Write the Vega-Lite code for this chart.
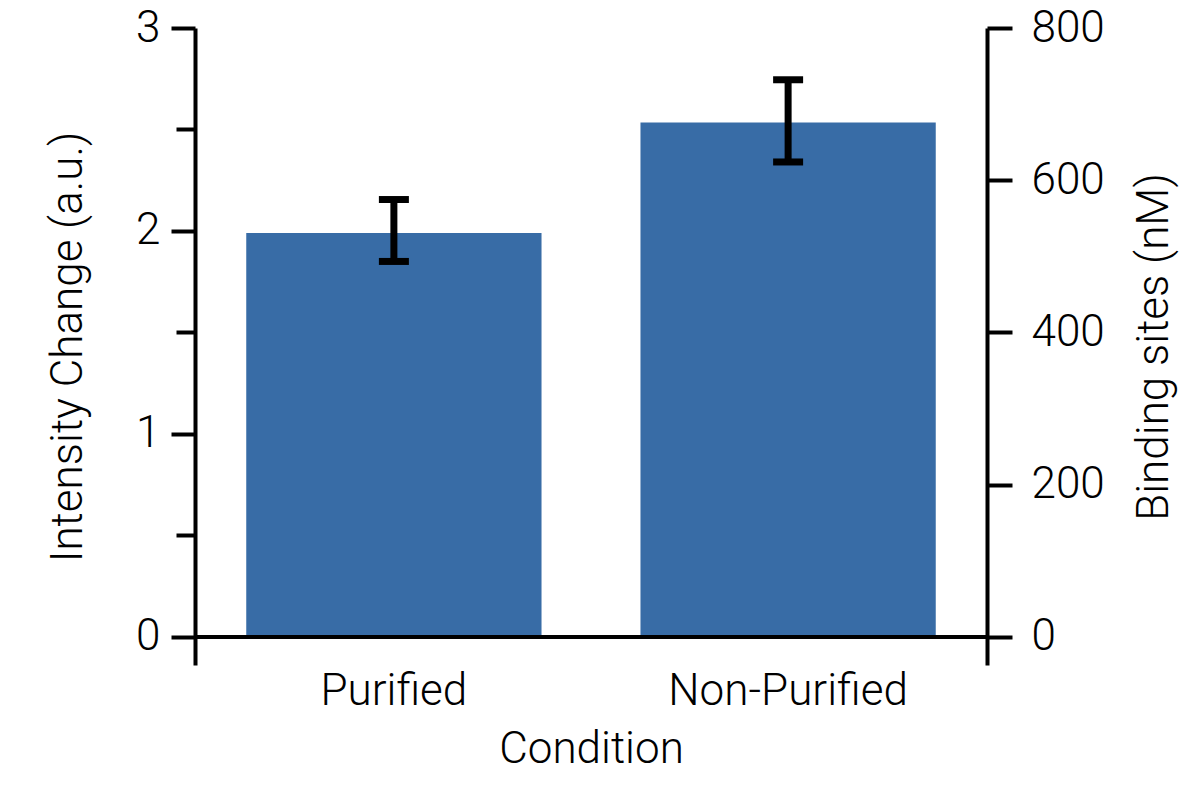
{
  "$schema": "https://vega.github.io/schema/vega-lite/v6.json",
  "autosize": "none",
  "width": 792,
  "height": 637,
  "padding": {"left": 195, "top": 28, "right": 213, "bottom": 128},
  "data": {
    "values": [
      {"condition": "Purified", "value": 1.99, "lo": 1.85, "hi": 2.155},
      {"condition": "Non-Purified", "value": 2.535, "lo": 2.34, "hi": 2.745}
    ]
  },
  "layer": [
    {
      "encoding": {
        "x": {
          "field": "condition",
          "type": "nominal",
          "sort": null,
          "scale": {"paddingInner": 0.251, "paddingOuter": 0.13},
          "axis": {"title": "Condition", "labelAngle": 0, "domain": false, "ticks": false, "labelPadding": 4, "titlePadding": 14, "labelLimit": 0}
        }
      },
      "layer": [
        {
          "mark": {"type": "bar", "color": "#386ca6"},
          "encoding": {
            "y": {
              "field": "value",
              "type": "quantitative",
              "scale": {"domain": [-0.138, 3], "nice": false, "zero": false},
              "axis": {
                "title": "Intensity Change (a.u.)",
                "values": [0, 0.5, 1, 1.5, 2, 2.5, 3],
                "labelExpr": "datum.value % 1 === 0 ? format(datum.value, 'd') : ''",
                "tickSize": {"condition": {"test": "datum.value % 1 !== 0", "value": 19}, "value": 24},
                "labelPadding": 11,
                "titlePadding": 45
              }
            }
          }
        },
        {
          "mark": {"type": "errorbar", "color": "black", "opacity": 1, "thickness": 7, "ticks": {"size": 30, "thickness": 7, "color": "black", "opacity": 1}},
          "encoding": {
            "y": {
              "field": "lo",
              "type": "quantitative",
              "axis": {
                "title": "Intensity Change (a.u.)",
                "values": [0, 0.5, 1, 1.5, 2, 2.5, 3],
                "labelExpr": "datum.value % 1 === 0 ? format(datum.value, 'd') : ''",
                "tickSize": {"condition": {"test": "datum.value % 1 !== 0", "value": 19}, "value": 24},
                "labelPadding": 11,
                "titlePadding": 45
              }
            },
            "y2": {"field": "hi"}
          }
        }
      ]
    },
    {
      "mark": {"type": "rule", "color": "black", "strokeWidth": 4},
      "encoding": {
        "y": {
          "datum": 0,
          "type": "quantitative",
          "scale": {"domain": [-36.8, 800], "nice": false, "zero": false},
          "axis": {
            "orient": "right",
            "title": "Binding sites (nM)",
            "values": [0, 200, 400, 600, 800],
            "tickSize": 25,
            "labelPadding": 19,
            "titleAngle": 270,
            "titleBaseline": "top",
            "titlePadding": 28
          }
        }
      }
    }
  ],
  "resolve": {"scale": {"y": "independent"}, "axis": {"y": "independent"}},
  "config": {
    "view": {"stroke": null},
    "axis": {
      "grid": false,
      "labelFont": "Roboto",
      "labelFontSize": 44,
      "labelFontWeight": 300,
      "labelColor": "black",
      "titleFont": "Roboto",
      "titleFontSize": 44,
      "titleFontWeight": 300,
      "titleColor": "black",
      "domainColor": "black",
      "domainWidth": 4,
      "tickColor": "black",
      "tickWidth": 4
    }
  }
}
